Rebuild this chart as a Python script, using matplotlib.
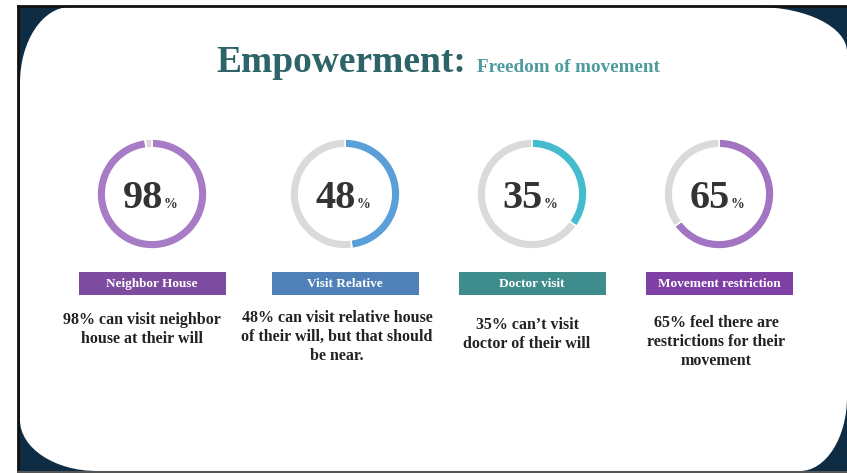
import matplotlib
matplotlib.use('Agg')
import matplotlib.pyplot as plt
from matplotlib.path import Path
from matplotlib.patches import PathPatch, Rectangle

# data
percents = [98, 48, 35, 65]
labels = ['Neighbor House', 'Visit Relative', 'Doctor visit', 'Movement restriction']
descriptions = ['98% can visit neighbor\nhouse at their will',
                '48% can visit relative house\nof their will, but that should\nbe near.',
                '35% can\u2019t visit\ndoctor of their will',
                '65% feel there are\nrestrictions for their\nmovement']

ring_colors = ['#a77bc6', '#5a9fd8', '#45bccd', '#a374c2']
bar_colors = ['#7d4b9f', '#4f80b8', '#3f8c8c', '#7f40a5']
centers_x = [152, 345, 532, 719]
desc_x = [142, 337, 527, 716]
desc_y = [312, 310, 317, 315]

W, H = 847, 473
SERIF = ['Liberation Serif', 'DejaVu Serif']

fig = plt.figure(figsize=(W / 100, H / 100), dpi=100)
ax = fig.add_axes([0, 0, 1, 1])
ax.set_xlim(0, W)
ax.set_ylim(H, 0)
ax.axis('off')

# slide frame: navy background, black top/left border, white panel with soft corners
ax.add_patch(Rectangle((18, 6), W - 18, H - 6, facecolor='#0e2c43', edgecolor='none'))
ax.plot([18, W], [6, 6], color='#111111', lw=2)
ax.plot([18, 18], [6, H], color='#111111', lw=2)
ax.plot([18, W], [472, 472], color='#555555', lw=1.5)

L, R, T, B = 20, W, 7, 471
k = 0.55
def corner(x0, y0, x1, y1, cx, cy):
    # cubic quarter-ellipse from (x0,y0) to (x1,y1) around corner (cx,cy)
    return [(x0 + k * (cx - x0), y0 + k * (cy - y0)),
            (x1 + k * (cx - x1), y1 + k * (cy - y1)), (x1, y1)]

verts = [(L, T + 76)]
codes = [Path.MOVETO]
verts += corner(L, T + 76, L + 50, T, L, T); codes += [Path.CURVE4] * 3
verts += [(R - 90, T)]; codes += [Path.LINETO]
verts += corner(R - 90, T, R, T + 45, R, T); codes += [Path.CURVE4] * 3
verts += [(R, B - 74)]; codes += [Path.LINETO]
verts += corner(R, B - 74, R - 47, B, R, B); codes += [Path.CURVE4] * 3
verts += [(L + 77, B)]; codes += [Path.LINETO]
verts += corner(L + 77, B, L, B - 51, L, B); codes += [Path.CURVE4] * 3
verts += [(L, T + 76)]; codes += [Path.CLOSEPOLY]
ax.add_patch(PathPatch(Path(verts, codes), facecolor='white', edgecolor='none'))

# title
ax.text(466, 72, 'Empowerment:', ha='right', va='baseline', fontsize=27,
        fontweight='bold', color='#2c6468', family=SERIF)
ax.text(477, 72, 'Freedom of movement', ha='left', va='baseline', fontsize=13.8,
        fontweight='bold', color='#4e9a9c', family=SERIF)

R_OUT = 55
CY = 194
for i, p in enumerate(percents):
    cx = centers_x[i]
    dax = fig.add_axes([(cx - R_OUT) / W, 1 - (CY + R_OUT) / H,
                        2 * R_OUT / W, 2 * R_OUT / H])
    dax.pie([p, 100 - p], colors=[ring_colors[i], '#dadada'], startangle=90,
            counterclock=False,
            wedgeprops=dict(width=0.16, edgecolor='white', linewidth=1.2))
    dax.set_xlim(-1, 1)
    dax.set_ylim(-1, 1)
    dax.set_aspect('auto')
    dax.axis('off')

    # centre value
    ax.text(cx + 11, 208, str(p), ha='right', va='baseline', fontsize=29,
            fontweight='bold', color='#333333', family=SERIF)
    ax.text(cx + 12, 208, '%', ha='left', va='baseline', fontsize=10,
            fontweight='bold', color='#333333', family=SERIF)

    # coloured label bar
    ax.add_patch(Rectangle((cx - 73, 272), 147, 23, facecolor=bar_colors[i],
                           edgecolor='none'))
    ax.text(cx, 284, labels[i], ha='center', va='center', fontsize=9.5,
            fontweight='bold', color='white', family=SERIF)

    # description
    ax.text(desc_x[i], desc_y[i], descriptions[i], ha='center', va='top',
            fontsize=11.5, fontweight='bold', color='#222222', family=SERIF,
            linespacing=1.25)

fig.savefig('out.png', dpi=100)
